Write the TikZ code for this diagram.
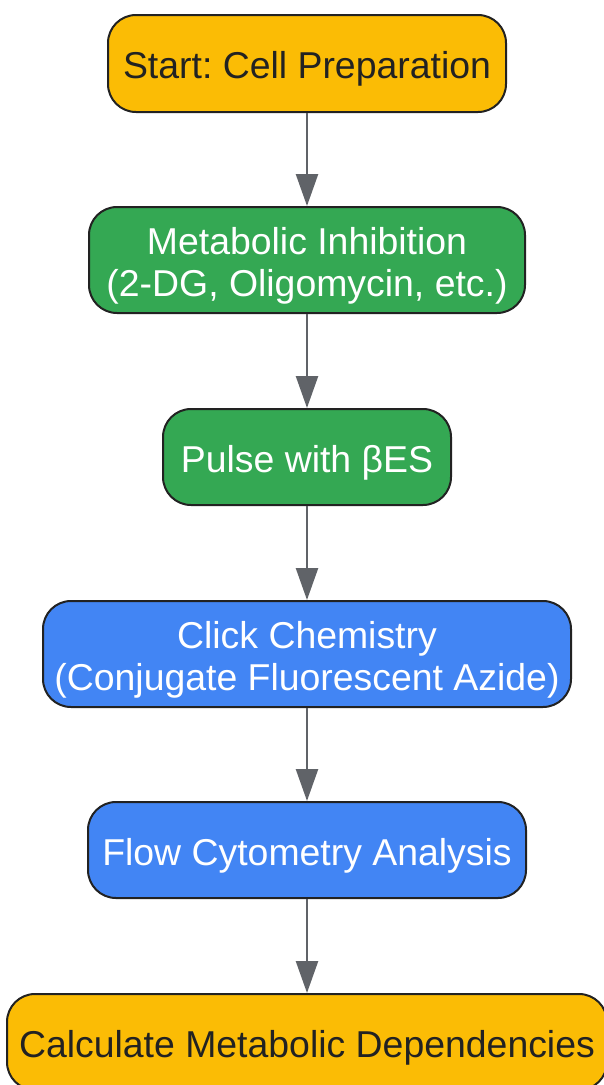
\documentclass[tikz,border=0pt]{standalone}
\usepackage{fontspec}
\setmainfont{Liberation Sans}
\frenchspacing
\usetikzlibrary{arrows.meta}
\definecolor{cyellow}{HTML}{FBBC05}
\definecolor{cgreen}{HTML}{34A853}
\definecolor{cblue}{HTML}{4285F4}
\definecolor{cborder}{HTML}{222222}
\definecolor{carrow}{HTML}{606368}
\definecolor{ctext}{HTML}{222222}
\begin{document}
\begin{tikzpicture}[x=1pt,y=1pt,
  box/.style={draw=cborder, line width=2pt, rounded corners=28pt, inner sep=0pt},
  ybox/.style={box, fill=cyellow},
  gbox/.style={box, fill=cgreen},
  bbox/.style={box, fill=cblue},
  lbl/.style={inner sep=0pt, align=center, font=\fontsize{37.4}{42}\selectfont, yshift=-5.5pt},
  dtext/.style={lbl, text=ctext},
  wtext/.style={lbl, text=white},
  conn/.style={draw=carrow, line width=2.5pt, -{Triangle[width=22pt,length=32pt]}}
]
\useasboundingbox (0,0) rectangle (604,-1085);
\node[ybox, minimum width=398pt, minimum height=97pt] (n1) at (307,-63.5) {};
\node[gbox, minimum width=436pt, minimum height=106pt] (n2) at (307,-260) {};
\node[gbox, minimum width=288pt, minimum height=96pt] (n3) at (307,-457) {};
\node[bbox, minimum width=528pt, minimum height=106pt] (n4) at (307,-654) {};
\node[bbox, minimum width=438pt, minimum height=96pt] (n5) at (307,-850) {};
\node[ybox, minimum width=600pt, minimum height=96pt] (n6) at (307,-1042) {};
\node[dtext] (t1) at (n1.center) {Start: Cell Preparation};
\node[wtext] (t2) at (n2.center) {Metabolic Inhibition\\(2-DG, Oligomycin, etc.)};
\node[wtext] (t3) at (n3.center) {Pulse with βES};
\node[wtext] (t4) at (n4.center) {Click Chemistry\\(Conjugate Fluorescent Azide)};
\node[wtext] (t5) at (n5.center) {Flow Cytometry Analysis};
\node[dtext] (t6) at (n6.center) {Calculate Metabolic Dependencies};
\draw[conn] (n1) -- (n2);
\draw[conn] (n2) -- (n3);
\draw[conn] (n3) -- (n4);
\draw[conn] (n4) -- (n5);
\draw[conn] (n5) -- (n6);
\end{tikzpicture}
\end{document}
